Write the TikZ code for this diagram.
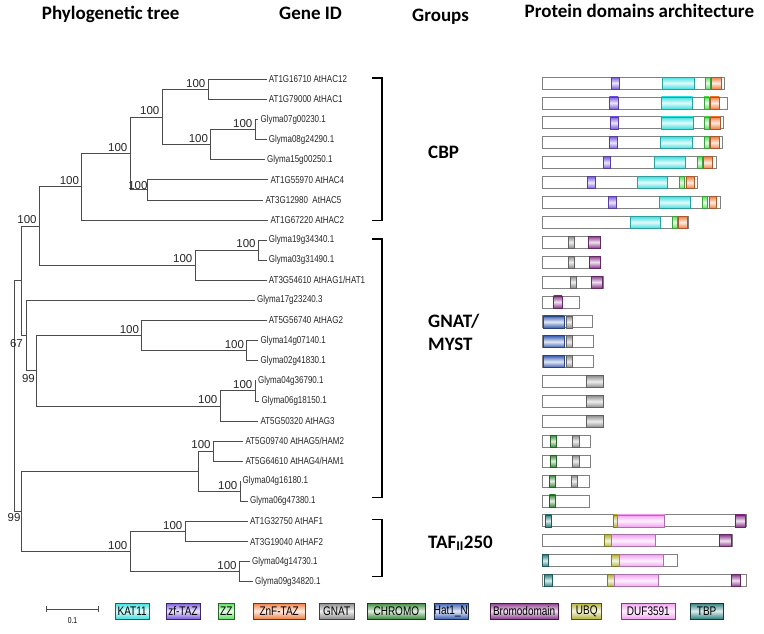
\documentclass[tikz,border=0pt]{standalone}
\usepackage{fontspec}
\setmainfont{Liberation Sans}
\newfontfamily\headfont{Carlito}
\newfontfamily\narrowfont[FakeStretch=0.8]{Liberation Sans}
\usetikzlibrary{positioning}

\definecolor{katc}{HTML}{40E0E0}
\definecolor{tazc}{HTML}{7C5CDE}
\definecolor{zzc}{HTML}{5CE05C}
\definecolor{znfc}{HTML}{F07F40}
\definecolor{gnatc}{HTML}{8C8C8C}
\definecolor{chromoc}{HTML}{3A8A3A}
\definecolor{hatc}{HTML}{3C60B4}
\definecolor{bromoc}{HTML}{8E3A8E}
\definecolor{ubqc}{HTML}{B4B43C}
\definecolor{dufc}{HTML}{F2A2F2}
\definecolor{tbpc}{HTML}{2F8080}

\begin{document}
\begin{tikzpicture}[x=1pt, y=-1pt,
  declare function={ty(\i)=79.3+20.1*(\i-1); by(\i)=83+19.9*(\i-1);},
  branch/.style={draw=black!70, line width=0.8pt},
  gene/.style={anchor=west, inner xsep=2pt, inner ysep=0pt, text=black!85,
    font=\narrowfont\fontsize{10}{10}\selectfont},
  boot/.style={inner sep=0pt, text=black!85, font=\fontsize{11.5}{12}\selectfont},
  head/.style={anchor=base west, inner sep=0pt, font=\headfont\bfseries\fontsize{19}{22}\selectfont},
  bracket/.style={draw=black, line width=1.2pt},
  protein/.style={draw=black!50, fill=white, line width=0.8pt},
  dom/.style={draw=#1!70!black, line width=0.5pt, top color=#1, bottom color=#1, middle color=#1!15!white},
  legbox/.style={dom=#1, draw=#1!45!black, line width=0.6pt, minimum height=16pt, inner sep=0pt,
    font=\narrowfont\fontsize{12.5}{12.5}\selectfont},
]
\useasboundingbox (0,0) rectangle (764,633);

% column titles
\node[head] (hTree) at (41.7,19.6) {Phylogenetic tree};
\node[head] (hGene) at (279,19.6) {Gene ID};
\node[head] (hGroup) at (412,21.5) {Groups};
\node[head] (hDom) at (524.5,17) {Protein domains architecture};

% leaves
\foreach \i/\x/\t in {1/266.7/AT1G16710 AtHAC12, 2/266.7/AT1G79000 AtHAC1, 3/258.3/Glyma07g00230.1,
  4/266.7/Glyma08g24290.1, 5/265/Glyma15g00250.1, 6/268.3/AT1G55970 AtHAC4,
  7/263.3/AT3G12980~~AtHAC5, 8/268.3/AT1G67220 AtHAC2, 9/266.7/Glyma19g34340.1,
  10/266.7/Glyma03g31490.1, 11/266.7/{AT3G54610 AtHAG1/HAT1}, 12/255/Glyma17g23240.3,
  13/266.7/AT5G56740 AtHAG2, 14/258.3/Glyma14g07140.1, 15/258.3/Glyma02g41830.1,
  16/256/Glyma04g36790.1, 17/259.3/Glyma06g18150.1, 18/258.3/AT5G50320 AtHAG3,
  19/243.3/{AT5G09740 AtHAG5/HAM2}, 20/243.3/{AT5G64610 AtHAG4/HAM1}, 21/240.5/Glyma04g16180.1,
  22/248/Glyma06g47380.1, 23/248/AT1G32750 AtHAF1, 24/248/AT3G19040 AtHAF2,
  25/250/Glyma04g14730.1, 26/253/Glyma09g34820.1}
  \node[gene] (g\i) at (\x,{ty(\i)}) {\t};

% inner nodes of the tree
\coordinate (nA) at (208,89.35);
\coordinate (nB) at (255,129.55);
\coordinate (nC) at (210.7,144.6);
\coordinate (nD) at (162,117.0);
\coordinate (nE) at (147.7,189.85);
\coordinate (nF) at (130,153.4);
\coordinate (nG) at (81.7,186.7);
\coordinate (nJ) at (258.3,250.15);
\coordinate (nK) at (195,265.2);
\coordinate (nH) at (39.3,225.95);
\coordinate (nT) at (246.7,350.65);
\coordinate (nQ) at (141.7,335.6);
\coordinate (nU) at (255,390.85);
\coordinate (nS) at (220,405.9);
\coordinate (nP) at (36.7,370.75);
\coordinate (nO) at (26,335.6);
\coordinate (nN) at (21.7,280.8);
\coordinate (nV) at (213.3,451.15);
\coordinate (nW) at (240,491.35);
\coordinate (nX) at (198.3,471.25);
\coordinate (nY) at (185,531.55);
\coordinate (nZ) at (239.3,571.75);
\coordinate (nAA) at (130,551.65);
\coordinate (nM) at (21.7,511.45);
\coordinate (nR) at (14,396.1);

% branches
\draw[branch] (nA) |- (g1.west) (nA) |- (g2.west)
  (nB) |- (g3.west) (nB) |- (g4.west)
  (nC) |- (nB) (nC) |- (g5.west)
  (nD) |- (nA) (nD) |- (nC)
  (nE) |- (g6.west) (nE) |- (g7.west)
  (nF) |- (nD) (nF) |- (nE)
  (nG) |- (nF) (nG) |- (g8.west)
  (nJ) |- (g9.west) (nJ) |- (g10.west)
  (nK) |- (nJ) (nK) |- (g11.west)
  (nH) |- (nG) (nH) |- (nK)
  (nT) |- (g14.west) (nT) |- (g15.west)
  (nQ) |- (g13.west) (nQ) |- (nT)
  (nU) |- (g16.west) (nU) |- (g17.west)
  (nS) |- (nU) (nS) |- (g18.west)
  (nP) |- (nQ) (nP) |- (nS)
  (nO) |- (g12.west) (nO) |- (nP)
  (nN) |- (nH) (nN) |- (nO)
  (nV) |- (g19.west) (nV) |- (g20.west)
  (nW) |- (g21.west) (nW) |- (g22.west)
  (nX) |- (nV) (nX) |- (nW)
  (nY) |- (g23.west) (nY) |- (g24.west)
  (nZ) |- (g25.west) (nZ) |- (g26.west)
  (nAA) |- (nY) (nAA) |- (nZ)
  (nM) |- (nX) (nM) |- (nAA)
  (nR) |- (nN) (nR) |- (nM);

% bootstrap values
\foreach \n in {A,B,C,D,F,G,H,J,K,Q,T,U,S,V,W,Y,Z,AA}
  \node[boot, above left=2pt and 2.5pt of n\n] (b\n) {100};
\node[boot, above left=0.5pt and 0pt of nE] (bE) {100};
\node[boot, below left=4pt and 3pt of nO] (bO) {67};
\node[boot, below left=3.5pt and 1.7pt of nP] (bP) {99};
\node[boot, below left=1.5pt and 1pt of nM] (bM) {99};

% groups
\draw[bracket] (372,78) -- (382,78) -- (382,220.5) -- (372,220.5);
\draw[bracket] (372,239) -- (382,239) -- (382,497.5) -- (372,497.5);
\draw[bracket] (372,519.3) -- (382,519.3) -- (382,576.7) -- (372,576.7);
\node[head] (cbp) at (428,158) {CBP};
\node[head] (gnat) at (428,327) {GNAT/};
\node[head] (myst) at (428,350) {MYST};
\node[head] (taf) at (428,548) {TAF\textsubscript{II}250};

% protein bars
\foreach \r/\e in {1/724, 2/727.7, 3/723.3, 4/722.7, 5/716, 6/697.7, 7/720, 8/688.3,
  9/600, 10/600, 11/603.3, 12/579.7, 13/592.3, 14/593.3, 15/593.3, 16/603, 17/603, 18/603,
  19/590, 20/590, 21/589.3, 22/589.3, 23/746.7, 24/732.3, 25/677.3, 26/746.7}
  \draw[protein] (542,{by(\r)-6}) rectangle (\e,{by(\r)+6});

% domains
\foreach \c/\r/\a/\b in {tazc/1/611/619, tazc/2/609.3/618.3, tazc/3/610.3/618.7, tazc/4/609.3/617.7,
  tazc/5/603.3/610.7, tazc/6/587/595.7, tazc/7/608.3/616.7,
  katc/1/662.3/694, katc/2/661.3/692.7, katc/3/661.3/693.3, katc/4/660.7/692.7,
  katc/5/654/685.7, katc/6/637.3/667.7, katc/7/659.3/690.7, katc/8/630/660.3,
  zzc/1/705.3/710.7, zzc/2/704/709.3, zzc/3/704.3/709.7, zzc/4/704/709,
  zzc/5/697.3/702.7, zzc/6/679.3/684, zzc/7/702.3/707, zzc/8/672.7/677.3,
  znfc/1/711.7/721, znfc/2/710/719.3, znfc/3/710.7/720, znfc/4/710/719,
  znfc/5/703.3/712.3, znfc/6/686.7/694, znfc/7/709/716.7, znfc/8/678/687.7,
  gnatc/9/568/574.3, gnatc/10/568/574.3, gnatc/11/570.3/576.7, gnatc/13/566.3/572.7,
  gnatc/14/566.3/572.7, gnatc/15/566.3/572.7, gnatc/16/586/603, gnatc/17/586/603,
  gnatc/18/586/603, gnatc/19/572.3/579, gnatc/20/572.3/579, gnatc/21/571/577.7,
  bromoc/9/588.3/600, bromoc/10/589/600, bromoc/11/591.3/602.7, bromoc/12/553.7/562,
  bromoc/23/735/745, bromoc/24/719.3/731.7, bromoc/26/731/740.7,
  hatc/13/543.3/564, hatc/14/543.3/564, hatc/15/543.3/564,
  chromoc/19/550.7/556.7, chromoc/20/550.7/556.7, chromoc/21/549.3/555.7, chromoc/22/549.3/555.7,
  tbpc/23/545.3/551.7, tbpc/25/542.7/548.7, tbpc/26/544/552,
  ubqc/23/613.3/617.3, ubqc/24/604/611.7, ubqc/25/611.7/619.3, ubqc/26/607.3/614.7,
  dufc/23/617.3/664.7, dufc/24/611.7/655.7, dufc/25/619.3/663.3, dufc/26/614.7/658.3}
  \path[dom=\c] (\a,{by(\r)-6}) rectangle (\b,{by(\r)+6});

% scale bar
\draw[black!70, line width=0.7pt] (46,606) -- (46,612) (46,609) -- (98.7,609) (98.7,606) -- (98.7,612);
\node[inner sep=0pt, font=\narrowfont\fontsize{8.5}{8.5}\selectfont] (scale) at (72.5,620.5) {0.1};

% legend
\foreach \c/\a/\b/\t in {katc/115/149.3/KAT11, tazc/166/200/zf-TAZ, zzc/218.3/234.3/ZZ,
  znfc/253.3/305/ZnF-TAZ, gnatc/319.3/354/GNAT, chromoc/367.7/425/CHROMO,
  hatc/434/467.7/Hat1\_N, bromoc/490/558.3/Bromodomain, ubqc/571.7/601.7/UBQ,
  dufc/621.7/675/DUF3591, tbpc/690/723.3/TBP}
  \node[legbox=\c, minimum width={\b-\a}] (leg\c) at ({(\a+\b)/2},611) {\t};
\end{tikzpicture}
\end{document}
